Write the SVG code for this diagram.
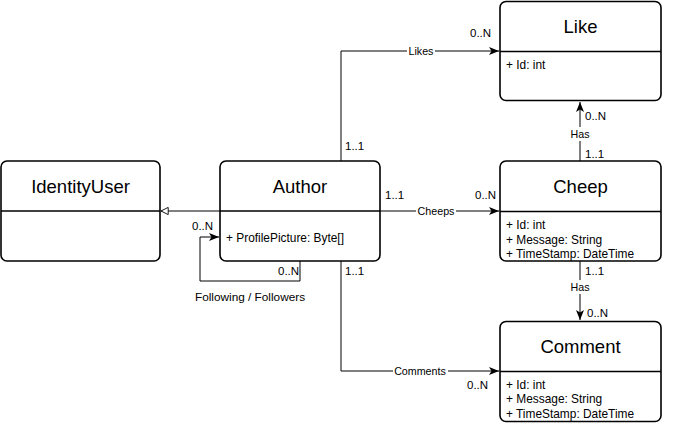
<svg xmlns="http://www.w3.org/2000/svg" width="676" height="423" viewBox="0 0 676 423">
<style>
.box{fill:#fff;stroke:#000;stroke-width:1.6}
.div{stroke:#000;stroke-width:1.6}
.title{font-family:"Liberation Sans",Arial,sans-serif;font-size:18.5px;fill:#000;text-anchor:middle}
.attr{font-family:"Liberation Sans",Arial,sans-serif;font-size:11.9px;fill:#000}
.edge{fill:none;stroke:#000;stroke-width:1}
.lbl{font-family:"Liberation Sans",Arial,sans-serif;font-size:10.7px;fill:#000;text-anchor:middle}
.mul{font-family:"Liberation Sans",Arial,sans-serif;font-size:11.5px;fill:#000}
.bg{fill:#fff}
</style>
<defs>
<marker id="arr" viewBox="0 0 10 8" refX="10" refY="4" markerWidth="10" markerHeight="8" markerUnits="userSpaceOnUse" orient="auto">
<path d="M0,0 L10,4 L0,8 L2.5,4 z" fill="#000"/>
</marker>
<marker id="inh" viewBox="0 0 10 10" refX="9" refY="5" markerWidth="9" markerHeight="9" markerUnits="userSpaceOnUse" orient="auto">
<path d="M1,1 L9,5 L1,9 z" fill="#fff" stroke="#000" stroke-width="1"/>
</marker>
</defs>
<g id="connectors">
<path class="edge" d="M220,211 L161,211" marker-end="url(#inh)"/>
<path class="edge" d="M300,261 L300,281 L200,281 L200,237 L219,237" marker-end="url(#arr)"/>
<path class="edge" d="M341,161 L341,51 L499,51" marker-end="url(#arr)"/>
<path class="edge" d="M380,211 L499,211" marker-end="url(#arr)"/>
<path class="edge" d="M580,161 L580,102" marker-end="url(#arr)"/>
<path class="edge" d="M580,261 L580,320" marker-end="url(#arr)"/>
<path class="edge" d="M341,261 L341,371 L499,371" marker-end="url(#arr)"/>
<rect class="bg" x="407" y="44" width="28" height="14"/>
<text class="lbl" x="421" y="55">Likes</text>
<rect class="bg" x="416" y="204" width="40" height="14"/>
<text class="lbl" x="436" y="215">Cheeps</text>
<rect class="bg" x="569" y="127" width="22" height="14"/>
<text class="lbl" x="580" y="138">Has</text>
<rect class="bg" x="569" y="280" width="22" height="14"/>
<text class="lbl" x="580" y="291">Has</text>
<rect class="bg" x="393" y="364" width="55" height="14"/>
<text class="lbl" x="420" y="375">Comments</text>
<text class="lbl" x="250" y="301" style="font-size:11.8px">Following / Followers</text>
<text class="mul" x="470" y="37">0..N</text>
<text class="mul" x="345" y="150">1..1</text>
<text class="mul" x="585" y="120">0..N</text>
<text class="mul" x="585" y="158">1..1</text>
<text class="mul" x="385" y="199">1..1</text>
<text class="mul" x="475" y="199">0..N</text>
<text class="mul" x="192" y="230">0..N</text>
<rect class="bg" x="277" y="264" width="22" height="14"/>
<text class="mul" x="278" y="275">0..N</text>
<text class="mul" x="345" y="275">1..1</text>
<text class="mul" x="585" y="275">1..1</text>
<text class="mul" x="587" y="317">0..N</text>
<text class="mul" x="467" y="389">0..N</text>
</g>
<g id="IdentityUser">
<rect class="box" x="1" y="161" width="159" height="100" rx="6"/>
<line class="div" x1="1" y1="211" x2="160" y2="211"/>
<text class="title" x="80.5" y="192.5">IdentityUser</text>
</g>
<g id="Author">
<rect class="box" x="220" y="161" width="160" height="100" rx="6"/>
<line class="div" x1="220" y1="211" x2="380" y2="211"/>
<text class="title" x="300" y="192.5">Author</text>
<text class="attr" x="226" y="242">+ ProfilePicture: Byte[]</text>
</g>
<g id="Like">
<rect class="box" x="500" y="1.5" width="161" height="99" rx="6"/>
<line class="div" x1="500" y1="51.5" x2="661" y2="51.5"/>
<text class="title" x="580.5" y="33">Like</text>
<text class="attr" x="506" y="68.5">+ Id: int</text>
</g>
<g id="Cheep">
<rect class="box" x="500" y="161" width="161" height="100" rx="6"/>
<line class="div" x1="500" y1="211.5" x2="661" y2="211.5"/>
<text class="title" x="580.5" y="192.5">Cheep</text>
<text class="attr" x="506" y="229">+ Id: int</text>
<text class="attr" x="506" y="243.5">+ Message: String</text>
<text class="attr" x="506" y="258">+ TimeStamp: DateTime</text>
</g>
<g id="Comment">
<rect class="box" x="500" y="321.5" width="161" height="100" rx="6"/>
<line class="div" x1="500" y1="371.5" x2="661" y2="371.5"/>
<text class="title" x="580.5" y="352.5">Comment</text>
<text class="attr" x="506" y="389">+ Id: int</text>
<text class="attr" x="506" y="403">+ Message: String</text>
<text class="attr" x="506" y="417.5">+ TimeStamp: DateTime</text>
</g>
</svg>
